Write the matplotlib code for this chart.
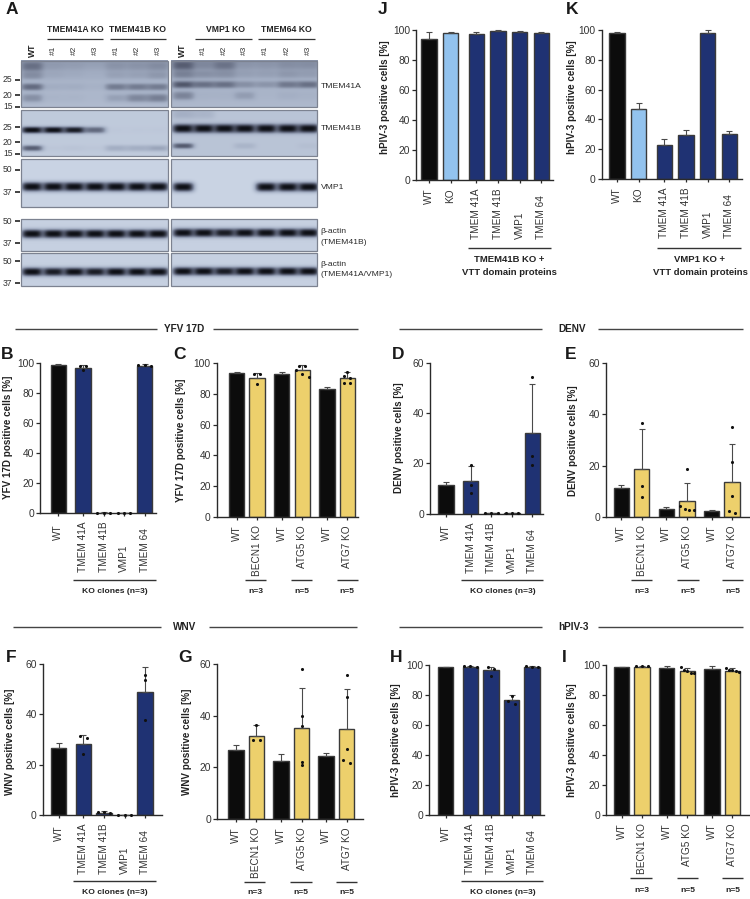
import numpy as np
import matplotlib
matplotlib.use('Agg')
import matplotlib.pyplot as plt
from matplotlib.colors import LinearSegmentedColormap
from matplotlib.transforms import ScaledTranslation

plt.rcParams['font.family'] = ['Liberation Sans', 'DejaVu Sans']

W, H = 750, 899
BLACK = '#0c0c0c'
BLUE = '#1f3273'
LIGHT = '#93c3ee'
YELLOW = '#edd06c'
TEXT = '#333333'

# ---------- bar chart data, upper value = end of error bar
KO_LABELS = ['WT', 'TMEM 41A', 'TMEM 41B', 'VMP1', 'TMEM 64']
ATG_LABELS = ['WT', 'BECN1 KO', 'WT', 'ATG5 KO', 'WT', 'ATG7 KO']
VTT_LABELS = ['WT', 'KO', 'TMEM 41A', 'TMEM 41B', 'VMP1', 'TMEM 64']

B_means = [98.5, 96.5, 0.4, 0.3, 98.0]
B_tops = [99.0, 98.5, 0.6, 0.4, 99.0]
B_pts = [[], [98, 98, 95], [0.3, 0.4, 0.5], [0.3, 0.3, 0.3], [97.8, 98.6, 98.2]]

C_means = [93.5, 90, 93, 95, 83.3, 90]
C_tops = [94.3, 93.5, 94, 98.5, 84.2, 94]
C_pts = [[], [93, 92.8, 86.5], [], [98, 98, 95, 93, 91], [], [94, 91.5, 90, 87, 87]]

D_means = [11.3, 12.8, 0.2, 0.2, 32]
D_tops = [12.5, 19, 0.3, 0.3, 51.5]
D_pts = [[], [19.2, 11.3, 8.2], [0.2, 0.2, 0.2], [0.2, 0.2, 0.2], [54.2, 22.8, 19.5]]

E_means = [11.3, 18.7, 3.3, 6.2, 2.6, 13.7]
E_tops = [12.4, 34.4, 4, 13.3, 2.9, 28.3]
E_pts = [[], [36.5, 12.2, 7.7], [], [18.7, 4.2, 3.3, 3.0, 2.7], [], [35, 21.6, 8.3, 2.5, 1.7]]

F_means = [26.8, 28.2, 1, 0.2, 48.8]
F_tops = [28.5, 31.7, 1.6, 0.3, 58.7]
F_pts = [[], [31.5, 30.5, 24.3], [1.5, 1.2, 1.0], [0.2, 0.2, 0.2], [55.6, 53.6, 37.6]]

G_means = [26.7, 32.3, 22.6, 35.3, 24.4, 34.8]
G_tops = [28.5, 36.2, 25.1, 50.6, 25.4, 50.4]
G_pts = [[], [36.3, 30.5, 30.5], [], [58, 39.7, 36, 22.2, 20.8], [], [55.6, 47.2, 27, 22.8, 21.8]]

H_means = [98.5, 99, 96.5, 76.5, 98.8]
H_tops = [99, 99.4, 99, 80, 99.3]
H_pts = [[], [99, 99.3, 99.2], [99, 97.5, 93], [79.5, 76, 74], [99, 99.3, 99]]

I_means = [98.5, 99, 98.3, 96, 97.3, 96.3]
I_tops = [99, 99.5, 99.2, 97.8, 99.2, 97.8]
I_pts = [[], [99.4, 99.3, 99.3], [], [98.5, 96.5, 96, 95, 94.5], [], [98, 97, 96.5, 96, 95.5]]

J_means = [94, 98, 97.5, 99.3, 98.8, 98.3]
J_tops = [99, 99, 98.8, 99.7, 99.3, 98.8]

K_means = [98, 47, 22.5, 29.8, 98, 30]
K_tops = [98.5, 51, 27, 33, 100, 32]

# ---------- blot band strengths per lane (WT, #1, #2, #3, #1, #2, #3)
A41_upper_L = [0.50, 0.10, 0.10, 0.05, 0.40, 0.40, 0.40]
A41_lower_L = [0.30, 0.05, 0.05, 0.02, 0.20, 0.35, 0.40]
A41_upper_R = [0.60, 0.45, 0.45, 0.25, 0.22, 0.40, 0.45]
A41_lower_R = [0.35, 0.05, 0.05, 0.20, 0.02, 0.08, 0.05]
B41_main_L = [1.0, 1.0, 0.95, 0.60, 0.02, 0.02, 0.02]
B41_low_L = [0.65, 0.03, 0.05, 0.03, 0.25, 0.25, 0.30]
B41_main_R = [1.0, 1.0, 1.0, 1.0, 1.0, 1.0, 1.0]
B41_low_R = [0.65, 0.0, 0.0, 0.15, 0.0, 0.0, 0.05]
VMP_L = [1.0, 1.0, 1.0, 1.0, 1.0, 1.0, 1.0]
VMP_R = [1.0, 0.0, 0.0, 0.0, 1.0, 1.0, 1.0]
ACT1_L = [1.0, 1.0, 1.0, 1.0, 1.0, 1.0, 1.0]
ACT1_R = [1.0, 1.0, 0.95, 1.0, 1.0, 1.0, 1.0]
ACT2_L = [1.0, 0.95, 1.0, 0.95, 1.0, 1.0, 1.0]
ACT2_R = [1.0, 1.0, 0.95, 1.0, 1.0, 1.0, 1.0]

# ---------- layout, all in pixels of the 750x899 picture
KO_STEP = [0, 24.7, 45.3, 65.8, 86.3]
ATG_STEP = [0, 20.4, 45, 65.6, 90.2, 110.6]
VTT_STEP = [0, 21.6, 47.3, 69, 90.7, 112.3]
BAR_W = 15.5

LANES_L = [32, 53.3, 74, 95, 116, 137.3, 158]
LANES_R = [182.7, 203.3, 224, 244.3, 265.7, 287.3, 308]
COL_L = (21, 167.7)
COL_R = (170.7, 317.3)

fig = plt.figure(figsize=(W / 100, H / 100), dpi=100)
bg = fig.add_axes([0, 0, 1, 1], zorder=0)
bg.set_xlim(0, W)
bg.set_ylim(H, 0)
bg.axis('off')
px = bg.transData


def seg(x0, x1, y, color='#333333', lw=1.0):
    bg.plot([x0, x1], [y, y], color=color, lw=lw, solid_capstyle='butt')


def swarm(vals, scale):
    # side by side when points are close in y, like Prism does it
    vals = sorted(vals, reverse=True)
    groups = []
    for v in vals:
        if groups and (groups[-1][-1] - v) * scale < 3.2:
            groups[-1].append(v)
        else:
            groups.append([v])
    out = []
    for g in groups:
        d = 6.3 if len(g) < 4 else 13.5 / (len(g) - 1)
        for i, v in enumerate(g):
            out.append(((i - (len(g) - 1) / 2) * d, v))
    return out


def bar_panel(left, right, ybase, ytop, first, steps, ymax, ystep, means, tops, pts,
              colors, labels, ylabel, ylab_xy, low_labels=None, pad=3.6):
    ax = fig.add_axes([left / W, 1 - ybase / H, (right - left) / W, (ybase - ytop) / H], zorder=2)
    ax.patch.set_alpha(0)
    ax.set_xlim(left, right)
    ax.set_ylim(0, ymax)
    xs = [first + s for s in steps]
    ax.bar(xs, means, width=BAR_W, color=colors, edgecolor='#3a3a3a', linewidth=1.0, zorder=2)
    ax.errorbar(xs, means, yerr=[[0] * len(means), [t - m for t, m in zip(tops, means)]], fmt='none',
                ecolor='#4a4a4a', elinewidth=0.8, capsize=2, capthick=0.8, zorder=3, clip_on=False)
    if pts is not None:
        scale = (ybase - ytop) / ymax
        for x, vals in zip(xs, pts):
            for off, v in swarm(vals, scale):
                ax.scatter(x + off, v, s=5, color='#111111', linewidths=0, zorder=4, clip_on=False)
    for s in ['top', 'right']:
        ax.spines[s].set_visible(False)
    for s in ['left', 'bottom']:
        ax.spines[s].set_linewidth(1.0)
        ax.spines[s].set_color('#2a2a2a')
    ax.set_yticks(np.arange(0, ymax + 1, ystep))
    ax.tick_params(axis='y', labelsize=7.4, length=2.8, width=0.9, pad=1.5, colors='#2a2a2a', labelcolor=TEXT)
    ax.tick_params(axis='x', labelsize=7.2, length=2.2, width=0.9, pad=pad, colors='#2a2a2a', labelcolor=TEXT)
    ax.set_xticks(xs, labels, rotation=90)
    low_y = 59 - (2.2 + pad) * 100 / 72
    for lab in ax.get_xticklabels():
        lab.set_ha('center')
        if low_labels is not None and lab.get_text() in low_labels:
            # these start from a common line further down
            lab.set_va('bottom')
            lab.set_transform(lab.get_transform() + ScaledTranslation(0, -low_y / 100, fig.dpi_scale_trans))
    ax.set_ylabel(ylabel, fontsize=7.1, fontweight='bold', color='#222222', va='center')
    ax.yaxis.set_label_coords(ylab_xy[0], ylab_xy[1], transform=px)
    return ax


def blot(col, lanes, y0, y1, bands, base, haze=0.0):
    # bands: (strengths, y centre, half height)
    n_y = int((y1 - y0) * 3)
    n_x = int((col[1] - col[0]) * 3)
    xx = np.linspace(col[0], col[1], n_x)
    yy = np.linspace(y0, y1, n_y)
    img = np.full((n_y, n_x), base, dtype=float)
    img += haze * np.exp(-(yy[:, None] - y0) / ((y1 - y0) * 0.5))
    for strengths, yc, hh in bands:
        for lane, st in zip(lanes, strengths):
            shape = np.exp(-((xx[None, :] - lane) / 11.2) ** 4) * np.exp(-(np.abs(yy[:, None] - yc) / hh) ** 2.6)
            img = 1 - (1 - img) * (1 - st * shape)
    cmap = LinearSegmentedColormap.from_list('film', ['#ccd6e6', '#a3aec3', '#5c6378', '#0e1016'])
    bg.imshow(img, extent=(col[0], col[1], y1, y0), cmap=cmap, vmin=0, vmax=1, aspect='auto', zorder=1,
              interpolation='bilinear')
    bg.add_patch(plt.Rectangle((col[0], y0), col[1] - col[0], y1 - y0, fill=False, ec='#7c8290', lw=0.9, zorder=2))


ROW1 = (60.7, 107)
ROW2 = (110, 156)
ROW3 = (159.3, 206.7)
ROW4 = (218.7, 250.7)
ROW5 = (253.3, 286)

blot(COL_L, LANES_L, *ROW1, [(A41_upper_L, 87.3, 3.6), (A41_lower_L, 98.3, 4.5),
                             ([0.40, .1, .08, .05, .15, .15, .2], 67, 5), ([0.25, .08, .06, .04, .12, .12, .18], 76, 4)], 0.2, 0.2)
blot(COL_R, LANES_R, *ROW1, [(A41_upper_R, 85, 3.6), (A41_lower_R, 96, 4.5),
                             ([0.50, .2, .35, .1, .1, .15, .15], 66, 5), ([0.3, .2, .2, .1, .1, .15, .12], 75, 4)], 0.22, 0.2)
blot(COL_L, LANES_L, *ROW2, [(B41_main_L, 130, 3.6), (B41_low_L, 148.3, 3.2)], 0.1)
blot(COL_R, LANES_R, *ROW2, [(B41_main_R, 128.5, 4.8), (B41_low_R, 146, 3), ([0.2, .15, 0, 0, 0, 0, 0], 114, 5)], 0.15)
blot(COL_L, LANES_L, *ROW3, [(VMP_L, 186.7, 5)], 0.02)
blot(COL_R, LANES_R, *ROW3, [(VMP_R, 187, 5)], 0.02)
blot(COL_L, LANES_L, *ROW4, [(ACT1_L, 233.5, 4.8)], 0.05)
blot(COL_R, LANES_R, *ROW4, [(ACT1_R, 232.5, 4.8)], 0.05)
blot(COL_L, LANES_L, *ROW5, [(ACT2_L, 272, 4.6)], 0.05)
blot(COL_R, LANES_R, *ROW5, [(ACT2_R, 271.5, 4.6)], 0.05)
bg.set_xlim(0, W)
bg.set_ylim(H, 0)

for txt, y in [('25', 80), ('20', 95), ('15', 106.7), ('25', 127), ('20', 142.3), ('15', 153.7),
               ('50', 170), ('37', 192.3), ('50', 221.3), ('37', 243.3), ('50', 261), ('37', 283)]:
    bg.text(12.5, y, txt, fontsize=6.2, ha='right', va='center', color=TEXT)
    seg(15, 20, y, '#222222', 1.2)

for txt, x, y in [('TMEM41A', 320.7, 86.7), ('TMEM41B', 320.7, 128.3), ('VMP1', 320.7, 187.7),
                  ('β-actin', 320.7, 231.7), ('(TMEM41B)', 320.7, 242.3), ('β-actin', 320.7, 264.3),
                  ('(TMEM41A/VMP1)', 320.7, 274.3)]:
    bg.text(x, y, txt, fontsize=6.1, ha='left', va='center', color='#2a2a2a')

for txt, x, x0, x1 in [('TMEM41A KO', 75, 46.7, 103.3), ('TMEM41B KO', 137.7, 110, 165.7),
                       ('VMP1 KO', 225, 195, 251.7), ('TMEM64 KO', 286.7, 258.3, 315)]:
    bg.text(x, 29, txt, fontsize=6.2, fontweight='bold', ha='center', va='center', color='#222222')
    seg(x0, x1, 39.3, '#333333', 0.9)

for lanes in (LANES_L, LANES_R):
    bg.text(lanes[0], 50, 'WT', fontsize=6.2, fontweight='bold', rotation=90, ha='center', va='center', color='#222222')
    for lane, txt in zip(lanes[1:], ['#1', '#2', '#3', '#1', '#2', '#3']):
        bg.text(lane, 50, txt, fontsize=6.0, rotation=90, ha='center', va='center', color=TEXT)

# ---------- bar panels
blue_ko = [BLACK, BLUE, BLUE, BLUE, BLUE]
yel_ko = [BLACK, YELLOW, BLACK, YELLOW, BLACK, YELLOW]
vtt_col = [BLACK, LIGHT, BLUE, BLUE, BLUE, BLUE]
low = KO_LABELS[1:]
low2 = VTT_LABELS[2:]

bar_panel(40, 155.7, 513.3, 362.7, 58.3, KO_STEP, 100, 20, B_means, B_tops, B_pts, blue_ko, KO_LABELS,
          'YFV 17D positive cells [%]', (7.8, 437), low, 5.5)
bar_panel(216.7, 358, 517.3, 362.7, 236.7, ATG_STEP, 100, 20, C_means, C_tops, C_pts, yel_ko, ATG_LABELS,
          'YFV 17D positive cells [%]', (181.2, 440))
bar_panel(430, 543.3, 513.7, 362.7, 446, KO_STEP, 60, 20, D_means, D_tops, D_pts, blue_ko, KO_LABELS,
          'DENV positive cells [%]', (398.8, 437.5), low, 5.5)
bar_panel(606, 750, 517.3, 362.7, 621.3, ATG_STEP, 60, 20, E_means, E_tops, E_pts, yel_ko, ATG_LABELS,
          'DENV positive cells [%]', (572.8, 440.8))
bar_panel(42.7, 162, 815.3, 664, 58.7, KO_STEP, 60, 20, F_means, F_tops, F_pts, blue_ko, KO_LABELS,
          'WNV positive cells [%]', (9.8, 741.7), low, 5)
bar_panel(217.3, 363, 819, 664, 236, ATG_STEP, 60, 20, G_means, G_tops, G_pts, yel_ko, ATG_LABELS,
          'WNV positive cells [%]', (186.5, 741.7))
bar_panel(429.3, 544, 815.3, 665, 445.7, KO_STEP, 100, 20, H_means, H_tops, H_pts, blue_ko, KO_LABELS,
          'hPIV-3 positive cells [%]', (396.2, 739.7), low, 5)
bar_panel(606, 750, 815, 665, 621.7, ATG_STEP, 100, 20, I_means, I_tops, I_pts, yel_ko, ATG_LABELS,
          'hPIV-3 positive cells [%]', (572.2, 740.5))
bar_panel(416, 553, 180, 30, 429, VTT_STEP, 100, 20, J_means, J_tops, None, vtt_col, VTT_LABELS,
          'hPIV-3 positive cells [%]', (384.5, 97.5), low2)
bar_panel(601.7, 741.7, 179, 30, 617, VTT_STEP, 100, 20, K_means, K_tops, None, vtt_col, VTT_LABELS,
          'hPIV-3 positive cells [%]', (572.2, 97.5), low2)

# ---------- section headings
for txt, x, y, a0, a1, b0, b1 in [('YFV 17D', 184, 329, 15, 156.7, 213.3, 358.3),
                                  ('DENV', 571.7, 329, 399.3, 541.7, 598.3, 743.3),
                                  ('WNV', 184.3, 627.3, 13.3, 161, 209, 357.3),
                                  ('hPIV-3', 573.3, 627.3, 399.3, 541.7, 598.3, 743.3)]:
    bg.text(x, y, txt, fontsize=7.2, fontweight='bold', ha='center', va='center', color='#222222')
    seg(a0, a1, y, '#444444', 1.0)
    seg(b0, b1, y, '#444444', 1.0)

# ---------- group brackets under the x labels
for x0, x1, y, tx, ty in [(73, 155.7, 580, 115, 591.7), (461, 543.3, 580, 503.3, 591.7),
                          (73, 155.7, 881, 115.3, 892.7), (460.7, 543.3, 881, 503.3, 892.7)]:
    seg(x0, x1, y)
    bg.text(tx, ty, 'KO clones (n=3)', fontsize=6.1, fontweight='bold', ha='center', va='center', color='#222222')

for xs, y, tx, ty in [([(245, 266), (291, 312), (336.7, 357.7)], 580, [255.7, 302, 347.3], 591.7),
                      ([(630.7, 652), (677.3, 698.7), (722.3, 743.3)], 580, [641.7, 688, 733.3], 591.7),
                      ([(244, 265), (290.3, 311.7), (336, 357.3)], 881.7, [255, 301.3, 346.7], 892.7),
                      ([(630, 651.7), (676.7, 698.3), (722.3, 743.3)], 878.3, [641.7, 687.7, 732.7], 890)]:
    for (x0, x1), t, cx in zip(xs, ['n=3', 'n=5', 'n=5'], tx):
        seg(x0, x1, y)
        bg.text(cx, ty, t, fontsize=6.1, fontweight='bold', ha='center', va='center', color='#222222')

for x0, x1, tx, first in [(467.7, 550.7, 509.3, 'TMEM41B KO +'), (656.7, 740.7, 700, 'VMP1 KO +')]:
    seg(x0, x1, 248.3)
    bg.text(tx, 260, first, fontsize=6.8, fontweight='bold', ha='center', va='center', color='#222222')
    bg.text(tx, 272.7, 'VTT domain proteins', fontsize=6.8, fontweight='bold', ha='center', va='center', color='#222222')

for letter, x, y in [('A', 11.7, 10), ('J', 383, 10), ('K', 571.7, 10), ('B', 6.7, 354.3), ('C', 179, 354.3),
                     ('D', 398, 354.3), ('E', 570.7, 354.3), ('F', 10.7, 657.3), ('G', 185, 657.3),
                     ('H', 395.7, 657.3), ('I', 564, 657.3)]:
    bg.text(x, y, letter, fontsize=12.5, fontweight='bold', ha='center', va='center', color='#1a1a1a')

fig.savefig('out.png', dpi=100)
